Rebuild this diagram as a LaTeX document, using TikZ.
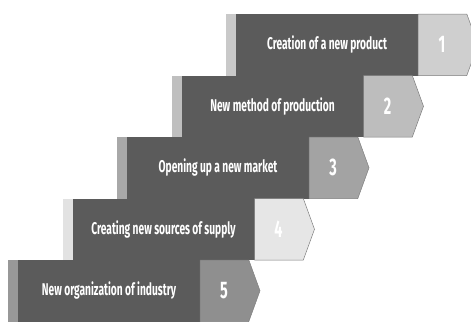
\documentclass[tikz,border=0pt]{standalone}
\usepackage{fontspec}
\usetikzlibrary{shapes.symbols}
\newfontfamily\stepfont[FakeStretch=0.6]{Fira Sans}
\definecolor{stepdark}{HTML}{5B5B5B}
\definecolor{stepedge}{HTML}{7E7E7E}
\begin{document}
\begin{tikzpicture}[x=1pt,y=-1pt,
  stripbox/.style={anchor=north west, minimum width=10pt, minimum height=61.5pt,
    inner sep=0pt, outer sep=0pt, draw=none},
  labelbox/.style={anchor=north west, fill=stepdark, minimum width=182pt,
    minimum height=61.5pt, inner sep=0pt, outer sep=0pt, text=white,
    font=\stepfont\bfseries\fontsize{17}{19}\selectfont},
  numbox/.style={shape=signal, signal to=east, signal from=nowhere,
    signal pointer angle=140, anchor=west, minimum width=60pt,
    minimum height=61.5pt, inner sep=0pt, outer sep=0pt,
    draw=stepedge, line width=0.5pt},
  numtext/.style={text=white, inner sep=0pt,
    font=\stepfont\bfseries\fontsize{24}{26}\selectfont}]
  \useasboundingbox (0,0) rectangle (471,322);
  \begin{scope}
    \clip (0,0) rectangle (471,322);
    \foreach \i/\txt/\ncol/\scol in {
        1/Creation of a new product/CFCFCF/C9C9C9,
        2/New method of production/BDBDBD/BFBFBF,
        3/Opening up a new market/A3A3A3/A8A8A8,
        4/Creating new sources of supply/E6E6E6/E2E2E2,
        5/New organization of industry/8F8F8F/989898} {
      \pgfmathsetmacro\xo{8+54.5*(5-\i)}
      \pgfmathsetmacro\yo{14+61.5*(\i-1)}
      \definecolor{numfill}{HTML}{\ncol}
      \definecolor{stripfill}{HTML}{\scol}
      \node[stripbox, fill=stripfill] (strip\i) at (\xo,\yo) {};
      \node[labelbox] (box\i) at (\xo+10,\yo) {\txt};
      \node[numbox, fill=numfill] (num\i) at (\xo+192,\yo+30.75) {};
      \node[numtext] (lab\i) at (\xo+216,\yo+30.75) {\i};
    }
  \end{scope}
\end{tikzpicture}
\end{document}
